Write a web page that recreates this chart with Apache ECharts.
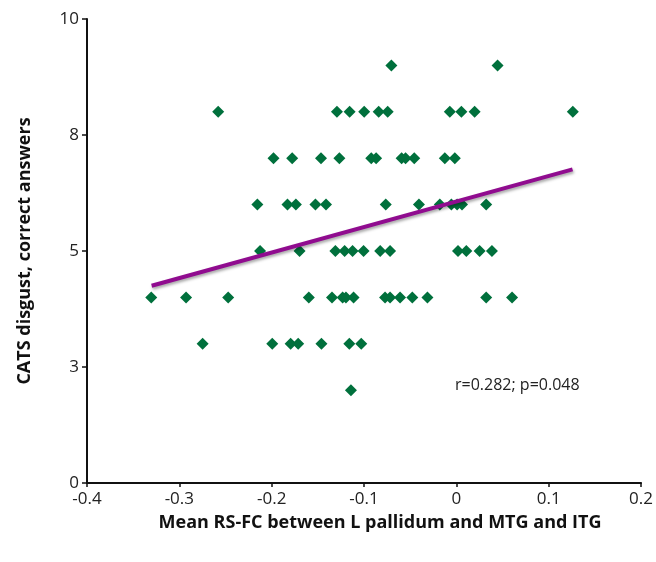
<!DOCTYPE html>
<html>
<head>
<meta charset="utf-8">
<script src="https://cdn.jsdelivr.net/npm/echarts@6/dist/echarts.min.js"></script>
<style>html,body{margin:0;padding:0;background:#fff}#c{width:656px;height:562px}</style>
</head>
<body>
<div id="c"></div>
<script>
// Data
const xValues = [
  -0.0704, 0.0446,
  -0.2579, -0.1293, -0.1156, -0.0998, -0.0841, -0.0744, -0.0071, 0.0054, 0.0198, 0.1261,
  -0.1980, -0.1778, -0.1466, -0.1267, -0.0922, -0.0869, -0.0593, -0.0550, -0.0456, -0.0125, -0.0017,
  -0.2155, -0.1829, -0.1738, -0.1526, -0.1412, -0.0765, -0.0405, -0.0179, -0.0054, 0.0008, 0.0061, 0.0323,
  -0.2126, -0.1698, -0.1310, -0.1210, -0.1124, -0.1005, -0.0825, -0.0718, 0.0018, 0.0108, 0.0252, 0.0385,
  -0.3304, -0.2927, -0.2471, -0.1598, -0.1347, -0.1232, -0.1196, -0.1113, -0.0772, -0.0718, -0.0610, -0.0477, -0.0313, 0.0323, 0.0603,
  -0.2748, -0.1994, -0.1795, -0.1713, -0.1461, -0.1159, -0.1030,
  -0.1142
];
const yValues = [
  9, 9,
  8, 8, 8, 8, 8, 8, 8, 8, 8, 8,
  7, 7, 7, 7, 7, 7, 7, 7, 7, 7, 7,
  6, 6, 6, 6, 6, 6, 6, 6, 6, 6, 6, 6,
  5, 5, 5, 5, 5, 5, 5, 5, 5, 5, 5, 5,
  4, 4, 4, 4, 4, 4, 4, 4, 4, 4, 4, 4, 4, 4, 4,
  3, 3, 3, 3, 3, 3, 3,
  2
];
const trendX = [-0.330, 0.1258];
const trendY = [4.25, 6.76];
const statText = 'r=0.282; p=0.048';
const xTitle = 'Mean RS-FC between L pallidum and MTG and ITG';
const yTitle = 'CATS disgust, correct answers';

const points = xValues.map((x, i) => [x, yValues[i]]);
const trend = trendX.map((x, i) => [x, trendY[i]]);

const font = '"Open Sans", "Liberation Sans", sans-serif';
const chart = echarts.init(document.getElementById('c'), null, {renderer: 'canvas'});
chart.setOption({
  animation: false,
  backgroundColor: '#ffffff',
  grid: {left: 87, right: 12, top: 19, bottom: 79, containLabel: false},
  xAxis: {
    type: 'value', min: -0.4, max: 0.2, interval: 0.1,
    name: xTitle, nameLocation: 'middle', nameGap: 31,
    nameTextStyle: {fontFamily: font, fontSize: 18, fontWeight: 'bold', color: '#111', padding: [0, 0, 0, 32]},
    axisLine: {onZero: false, lineStyle: {color: '#111', width: 2}},
    axisTick: {show: true, inside: false, length: 4, lineStyle: {color: '#111', width: 1.5}},
    axisLabel: {fontFamily: font, fontSize: 17, color: '#222', margin: 8,
      formatter: v => { const r = Math.round(v * 10) / 10; return r === 0 ? '0' : String(r); }},
    splitLine: {show: false}
  },
  yAxis: {
    type: 'value', min: 0, max: 10, interval: 2.5,
    name: yTitle, nameLocation: 'middle', nameGap: 53, nameRotate: 90,
    nameTextStyle: {fontFamily: font, fontSize: 18, fontWeight: 'bold', color: '#111'},
    axisLine: {show: true, onZero: false, lineStyle: {color: '#111', width: 2}},
    axisTick: {show: true, inside: false, length: 5, lineStyle: {color: '#111', width: 1.5}},
    axisLabel: {fontFamily: font, fontSize: 17, color: '#222', margin: 8,
      formatter: v => String(Math.round(v))},
    splitLine: {show: false}
  },
  series: [
    {
      type: 'scatter', data: points, symbol: 'diamond', symbolSize: 12,
      itemStyle: {color: '#00703C', opacity: 1}, z: 3
    },
    {
      type: 'line', data: trend, showSymbol: false, symbol: 'none',
      lineStyle: {color: '#900C8F', width: 4, shadowColor: 'rgba(0,0,0,0.35)', shadowBlur: 3, shadowOffsetX: 1, shadowOffsetY: 2},
      z: 4
    }
  ],
  graphic: [
    {type: 'text', left: 455, top: 377,
     style: {text: statText, fontFamily: font, fontSize: 16, fill: '#222'}}
  ]
});
</script>
</body>
</html>
